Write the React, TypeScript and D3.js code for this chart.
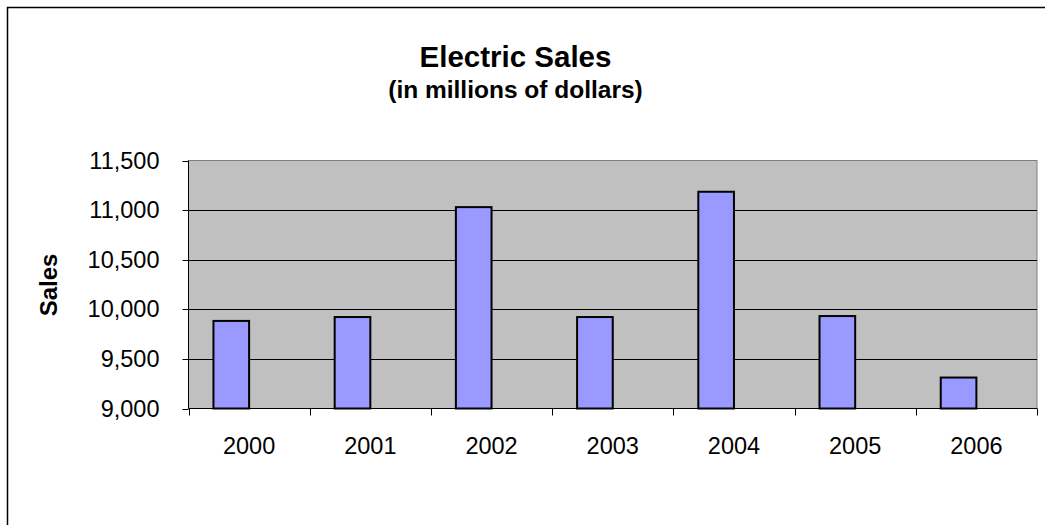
import React from "react";
import * as d3 from "d3";

const years = ["2000", "2001", "2002", "2003", "2004", "2005", "2006"];
const sales = [9883, 9922, 11030, 9922, 11185, 9932, 9312];
const yTicks = [9000, 9500, 10000, 10500, 11000, 11500];
const title = "Electric Sales";
const subtitle = "(in millions of dollars)";
const yTitle = "Sales";

const W = 1045;
const H = 525;
const plot = { left: 188.5, right: 1037, top: 160.5, bottom: 408.5 };
const font = "'Liberation Sans', Arial, sans-serif";

export default function App() {
  const x = d3.scaleBand<string>().domain(years).range([plot.left, plot.right]).paddingInner(0).paddingOuter(0);
  const y = d3.scaleLinear().domain([9000, 11500]).range([plot.bottom, plot.top]);
  const fmt = d3.format(",");
  // Excel clustered layout: 2 series slots, gap width 140%
  const bw = x.bandwidth() / 3.4;
  const off = 0.7 * bw;

  return (
    <svg width={W} height={H} style={{ position: "absolute", left: 0, top: 0, background: "#fff" }}>
      <rect x={7.5} y={7.5} width={1100} height={600} fill="#fff" stroke="#000" strokeWidth={1.5} />
      <text x={515.5} y={66.5} textAnchor="middle" fontFamily={font} fontWeight="bold" fontSize={29.5}>{title}</text>
      <text x={515.5} y={98} textAnchor="middle" fontFamily={font} fontWeight="bold" fontSize={24.5}>{subtitle}</text>
      <rect x={plot.left} y={plot.top} width={plot.right - plot.left} height={plot.bottom - plot.top} fill="#C0C0C0" stroke="#808080" strokeWidth={1} />
      {yTicks.slice(1, -1).map((t) => (
        <line key={t} x1={plot.left} x2={plot.right} y1={Math.round(y(t)) + 0.5} y2={Math.round(y(t)) + 0.5} stroke="#000" strokeWidth={1} />
      ))}
      {years.map((yr, i) => (
        <rect key={yr} x={(x(yr) as number) + off} y={y(sales[i])} width={bw} height={plot.bottom - y(sales[i])} fill="#9999FF" stroke="#000" strokeWidth={2} />
      ))}
      <line x1={plot.left} x2={plot.left} y1={plot.top} y2={plot.bottom} stroke="#000" strokeWidth={1} />
      <line x1={plot.left} x2={plot.right} y1={plot.bottom} y2={plot.bottom} stroke="#000" strokeWidth={1} />
      {yTicks.map((t) => (
        <g key={t}>
          <line x1={plot.left - 6} x2={plot.left} y1={Math.round(y(t)) + 0.5} y2={Math.round(y(t)) + 0.5} stroke="#000" strokeWidth={1} />
          <text x={159.5} y={y(t) + 8} textAnchor="end" fontFamily={font} fontSize={23.5}>{fmt(t)}</text>
        </g>
      ))}
      {years.concat(["end"]).map((yr, i) => {
        const xx = Math.round(i < years.length ? (x(yr) as number) : plot.right) + 0.5;
        return <line key={"t" + i} x1={xx} x2={xx} y1={plot.bottom} y2={plot.bottom + 7} stroke="#000" strokeWidth={1} />;
      })}
      {years.map((yr) => (
        <text key={"l" + yr} x={(x(yr) as number) + x.bandwidth() / 2} y={453.5} textAnchor="middle" fontFamily={font} fontSize={23.5}>{yr}</text>
      ))}
      <text transform={`translate(57,285) rotate(-90)`} textAnchor="middle" fontFamily={font} fontWeight="bold" fontSize={24}>{yTitle}</text>
    </svg>
  );
}
